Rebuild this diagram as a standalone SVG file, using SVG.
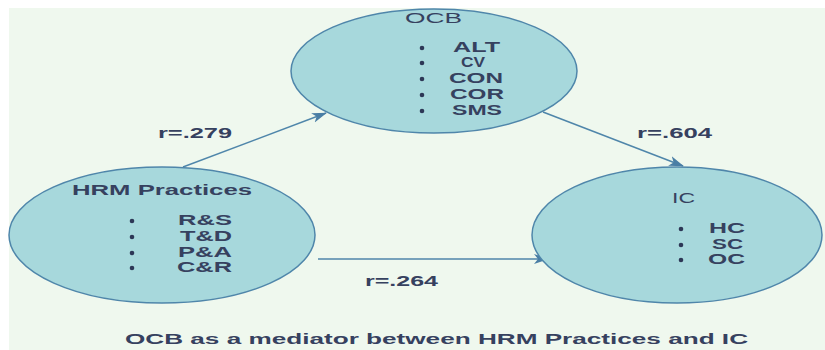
<svg xmlns="http://www.w3.org/2000/svg" width="825" height="350" viewBox="0 0 825 350">
<defs>
<marker id="ah" markerUnits="userSpaceOnUse" markerWidth="16" markerHeight="12" viewBox="0 0 16 12" refX="14" refY="6" orient="auto">
<path d="M0,1 L15,6 L0,11 L4,6 Z" fill="#4a7ea5"/>
</marker>
<style>
.node{fill:#a7d8dc;stroke:#4f86aa;stroke-width:1.5}
.t{font-family:"Liberation Sans",Arial,sans-serif;font-size:14px;fill:#36415f}
.b{font-weight:bold}
.dot{fill:#2d3756}
.edge{stroke:#4f86aa;stroke-width:1.5;fill:none;marker-end:url(#ah)}
</style>
</defs>
<rect x="0" y="0" width="825" height="350" fill="#ffffff"/>
<rect x="9" y="8" width="816" height="342" fill="#eff8ee"/>
<g id="connectors">
<line class="edge" x1="183" y1="167" x2="326" y2="113"/>
<line class="edge" x1="543" y1="112" x2="683" y2="166"/>
<line class="edge" x1="318" y1="259" x2="548" y2="259"/>
<text class="t b" x="158" y="138" textLength="74" lengthAdjust="spacingAndGlyphs">r=.279</text>
<text class="t b" x="637" y="138" textLength="75" lengthAdjust="spacingAndGlyphs">r=.604</text>
<text class="t b" x="365" y="286" textLength="73" lengthAdjust="spacingAndGlyphs">r=.264</text>
</g>
<g id="ocb">
<ellipse class="node" cx="434" cy="71" rx="143" ry="62"/>
<text class="t" x="405" y="23" textLength="57" lengthAdjust="spacingAndGlyphs">OCB</text>
<circle class="dot" cx="422" cy="48" r="2.3"/>
<circle class="dot" cx="422" cy="63" r="2.3"/>
<circle class="dot" cx="422" cy="79" r="2.3"/>
<circle class="dot" cx="422" cy="95" r="2.3"/>
<circle class="dot" cx="422" cy="111" r="2.3"/>
<text class="t b" x="453" y="52" textLength="47" lengthAdjust="spacingAndGlyphs">ALT</text>
<text class="t b" x="461" y="67" textLength="24" lengthAdjust="spacingAndGlyphs">CV</text>
<text class="t b" x="449" y="83" textLength="54" lengthAdjust="spacingAndGlyphs">CON</text>
<text class="t b" x="450" y="99" textLength="54" lengthAdjust="spacingAndGlyphs">COR</text>
<text class="t b" x="452" y="115" textLength="50" lengthAdjust="spacingAndGlyphs">SMS</text>
</g>
<g id="hrm">
<ellipse class="node" cx="162" cy="235" rx="153" ry="68"/>
<text class="t b" x="72" y="195" textLength="180" lengthAdjust="spacingAndGlyphs">HRM Practices</text>
<circle class="dot" cx="132" cy="221" r="2.3"/>
<circle class="dot" cx="132" cy="237" r="2.3"/>
<circle class="dot" cx="132" cy="253" r="2.3"/>
<circle class="dot" cx="132" cy="268" r="2.3"/>
<text class="t b" x="178" y="225" textLength="54" lengthAdjust="spacingAndGlyphs">R&amp;S</text>
<text class="t b" x="180" y="241" textLength="52" lengthAdjust="spacingAndGlyphs">T&amp;D</text>
<text class="t b" x="178" y="257" textLength="54" lengthAdjust="spacingAndGlyphs">P&amp;A</text>
<text class="t b" x="177" y="272" textLength="55" lengthAdjust="spacingAndGlyphs">C&amp;R</text>
</g>
<g id="ic">
<ellipse class="node" cx="677" cy="235" rx="145" ry="68"/>
<text class="t" x="672" y="203" textLength="23" lengthAdjust="spacingAndGlyphs">IC</text>
<circle class="dot" cx="681" cy="229" r="2.3"/>
<circle class="dot" cx="681" cy="245" r="2.3"/>
<circle class="dot" cx="681" cy="260" r="2.3"/>
<text class="t b" x="709" y="233" textLength="36" lengthAdjust="spacingAndGlyphs">HC</text>
<text class="t b" x="712" y="249" textLength="31" lengthAdjust="spacingAndGlyphs">SC</text>
<text class="t b" x="708" y="264" textLength="37" lengthAdjust="spacingAndGlyphs">OC</text>
</g>
<text class="t b" x="125" y="344" textLength="623" lengthAdjust="spacingAndGlyphs">OCB as a mediator between HRM Practices and IC</text>
</svg>
